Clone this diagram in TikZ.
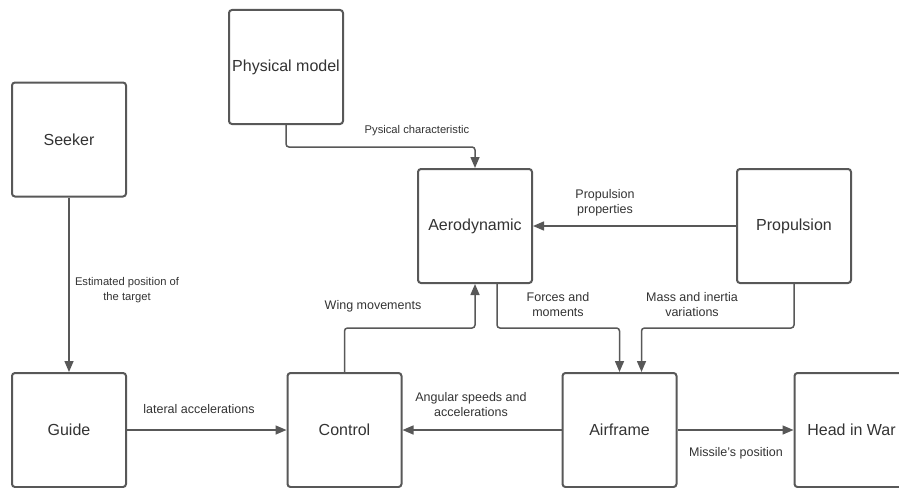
\documentclass[tikz,border=0pt]{standalone}
\usepackage{fontspec}
\setmainfont{Liberation Sans}
\usetikzlibrary{arrows.meta}
\definecolor{linegray}{RGB}{88,88,88}
\definecolor{textgray}{RGB}{51,51,51}
\tikzset{
  box/.style={draw=linegray, line width=2pt, rounded corners=3pt, fill=white,
    minimum width=114pt, minimum height=114pt, inner sep=0pt,
    font=\fontsize{16}{19}\selectfont, text=textgray},
  conn/.style={draw=linegray, line width=1.5pt, rounded corners=3pt,
    -{Triangle[length=11pt,width=9pt]}},
  lbl/.style={font=\fontsize{12.5}{15}\selectfont, text=textgray, align=center, inner sep=0pt},
  smalllbl/.style={lbl, font=\fontsize{11.2}{15}\selectfont}
}
\begin{document}
\begin{tikzpicture}[x=1pt,y=-1pt]
\useasboundingbox (0,0) rectangle (899,487);
% boxes
\node[box] (seeker)   at (69,139.5) {Seeker};
\node[box] (physical) at (286,67)   {Physical model};
\node[box] (aero)     at (475,226)  {Aerodynamic};
\node[box] (prop)     at (794,226)  {Propulsion};
\node[box] (guide)    at (69,430)   {Guide};
\node[box] (control)  at (344.5,430) {Control};
\node[box] (airframe) at (619.5,430) {Airframe};
\node[box] (head)     at (851.5,430) {Head in War};
% connectors
\draw[conn] (physical.south) -- ++(0,22) -| (aero.north);
\draw[conn] (prop.west) -- (aero.east);
\draw[conn] ([xshift=22pt]aero.south) -- ++(0,44) -| (airframe.north);
\draw[conn] (prop.south) -- ++(0,44) -| ([xshift=22pt]airframe.north);
\draw[conn] (control.north) -- ++(0,-44) -| (aero.south);
\draw[conn] (seeker.south) -- (guide.north);
\draw[conn] (guide.east) -- (control.west);
\draw[conn] (airframe.west) -- (control.east);
\draw[conn] (airframe.east) -- (head.west);
% labels
\node[smalllbl] (l1) at (417,131) {Pysical characteristic};
\node[lbl] (l2) at (605,203) {Propulsion\\properties};
\node[lbl] (l3) at (558,304.5) {Forces and\\moments};
\node[lbl] (l4) at (692,304.5) {Mass and inertia\\variations};
\node[lbl] (l5) at (373,306) {Wing movements};
\node[smalllbl] (l6) at (127,290.5) {Estimated position of\\the target};
\node[lbl] (l7) at (199,409) {lateral accelerations};
\node[lbl] (l8) at (471,404.5) {Angular speeds and\\accelerations};
\node[lbl] (l9) at (736,453) {Missile's position};
\end{tikzpicture}
\end{document}
